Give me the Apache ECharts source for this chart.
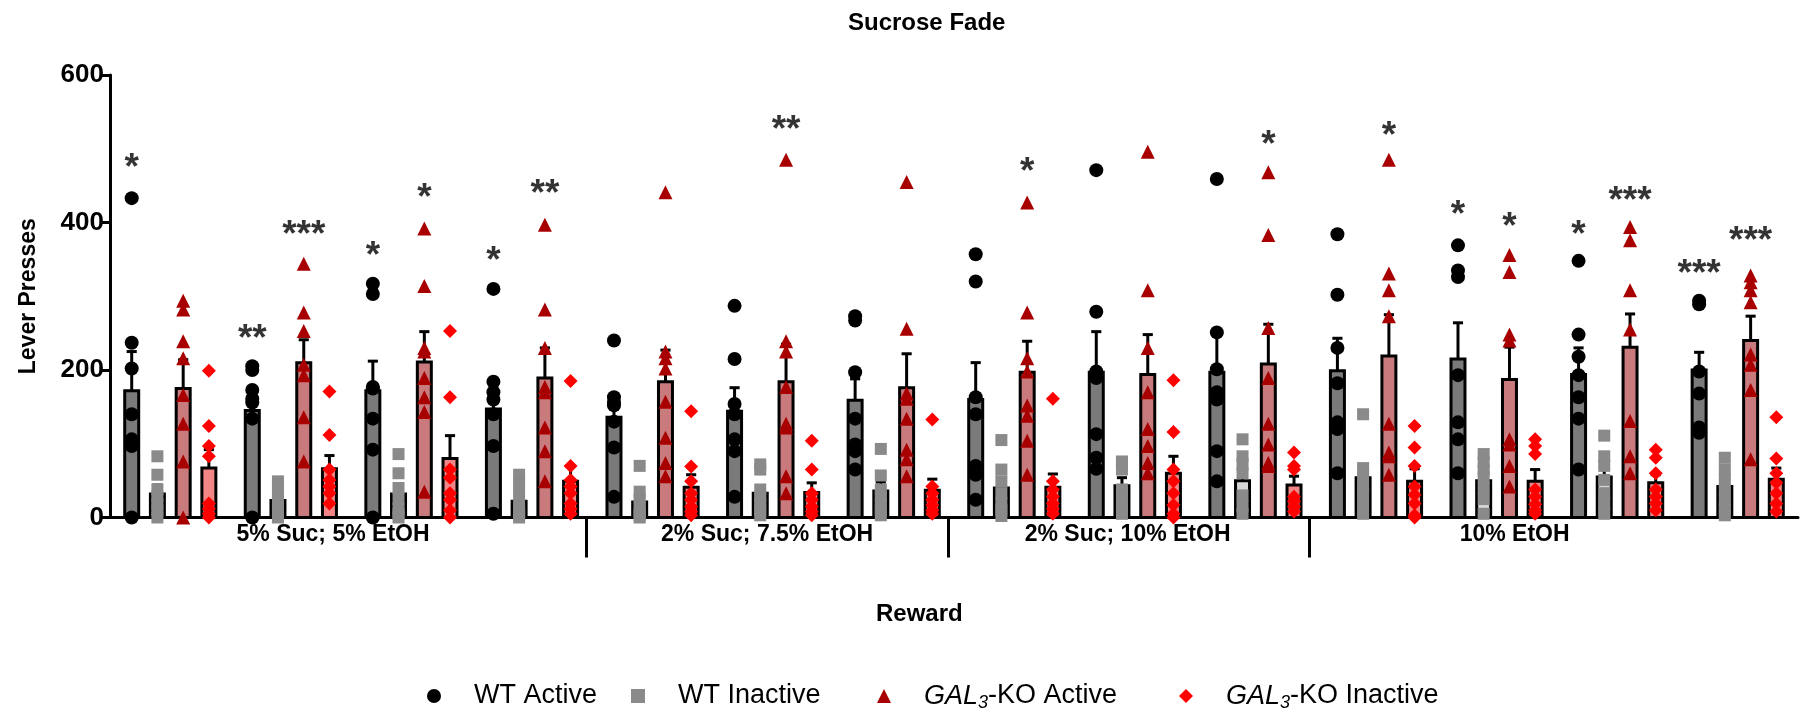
<!DOCTYPE html>
<html>
<head>
<meta charset="utf-8">
<title>Sucrose Fade</title>
<script src="https://cdn.jsdelivr.net/npm/echarts@6/dist/echarts.min.js"></script>
<style>
html, body { margin: 0; padding: 0; background: #fff; }
#chart { width: 1800px; height: 711px; }
</style>
</head>
<body>
<div id="chart"></div>
<script>
// sessions are grouped by reward solution
var groupNames = ['5% Suc; 5% EtOH', '2% Suc; 7.5% EtOH', '2% Suc; 10% EtOH', '10% EtOH'];
var groupSizes = [4, 3, 3, 4];
var seriesNames = ['WT Active', 'WT Inactive', 'GAL3-KO Active', 'GAL3-KO Inactive'];
var yTicks = [0, 200, 400, 600];

// bar heights (mean) and SEM, one value per session
var wtActiveMean = [172, 145, 172, 147, 136, 144, 159, 160, 197, 197, 199, 215, 194, 200];
var wtActiveSem = [53, 26, 40, 34, 25, 32, 29, 50, 55, 51, 44, 49, 36, 24];
var wtInactiveMean = [32, 23, 32, 22, 21, 33, 36, 40, 43, 50, 54, 50, 55, 42];
var wtInactiveSem = [12, 7, 12, 8, 9, 10, 12, 14, 11, 16, 17, 11, 14, 11];
var koActiveMean = [175, 210, 211, 189, 184, 184, 176, 197, 194, 208, 219, 187, 231, 240];
var koActiveSem = [39, 31, 41, 41, 43, 51, 46, 42, 54, 54, 56, 44, 45, 33];
var koInactiveMean = [67, 66, 80, 49, 41, 34, 37, 41, 60, 44, 49, 49, 47, 52];
var koInactiveSem = [25, 18, 31, 21, 17, 13, 15, 18, 23, 12, 17, 16, 11, 15];

// individual animals
var wtActivePts = [
  [433, 237, 202, 140, 106, 97, 0], [205, 200, 173, 161, 156, 134, 0],
  [317, 303, 177, 175, 134, 92, 0], [310, 184, 170, 160, 140, 97, 5],
  [240, 163, 156, 152, 130, 95, 28], [287, 215, 154, 140, 106, 90, 28],
  [273, 267, 197, 134, 99, 90, 65], [357, 320, 163, 140, 70, 58, 24],
  [471, 279, 198, 189, 113, 81, 66], [459, 251, 201, 170, 160, 90, 49],
  [384, 302, 230, 182, 129, 120, 60], [369, 335, 326, 193, 129, 106, 60],
  [348, 248, 218, 193, 163, 134, 65], [294, 289, 198, 168, 122, 115]
];
var wtInactivePts = [
  [83, 58, 38, 28, 18, 10, 0], [49, 40, 30, 22, 15, 8, 0],
  [86, 60, 40, 25, 12, 5, 0], [58, 45, 30, 15, 8, 4, 0],
  [70, 35, 25, 15, 8, 3, 0], [72, 65, 38, 28, 19, 10, 3],
  [93, 57, 38, 28, 19, 10, 3], [105, 65, 49, 33, 19, 10, 2],
  [76, 72, 65, 38, 28, 15, 5], [106, 83, 72, 60, 30, 15, 5],
  [140, 67, 56, 42, 33, 19, 5], [86, 75, 65, 55, 40, 25, 5],
  [111, 83, 70, 51, 33, 19, 5], [81, 65, 51, 38, 24, 12, 3]
];
var koActivePts = [
  [294, 282, 239, 216, 166, 127, 76, 0], [344, 278, 253, 207, 193, 136, 76],
  [392, 314, 230, 225, 189, 163, 143, 35], [397, 282, 230, 177, 170, 122, 90, 49],
  [441, 225, 216, 202, 157, 108, 74, 56], [485, 239, 225, 177, 127, 122, 56, 33],
  [455, 256, 168, 161, 134, 92, 79, 56], [427, 278, 216, 198, 152, 138, 104, 58],
  [496, 308, 230, 170, 120, 97, 74, 60], [468, 383, 257, 189, 127, 99, 74, 70],
  [485, 331, 308, 273, 127, 88, 83, 58], [356, 333, 248, 240, 106, 99, 70, 42],
  [394, 376, 308, 255, 131, 83, 60], [328, 319, 308, 292, 221, 207, 173, 79]
];
var koInactivePts = [
  [199, 124, 97, 83, 19, 12, 5, 0], [171, 112, 65, 51, 42, 33, 19],
  [253, 163, 65, 54, 33, 24, 10, 0], [185, 70, 51, 42, 33, 19, 12, 5],
  [144, 69, 49, 33, 24, 15, 8, 3], [104, 65, 33, 24, 15, 8, 3],
  [133, 42, 33, 24, 17, 10, 5], [161, 49, 38, 28, 19, 12, 5],
  [186, 116, 65, 49, 33, 17, 5, 0], [88, 70, 65, 28, 22, 15, 8],
  [124, 95, 70, 42, 31, 19, 3, 0], [106, 97, 86, 38, 28, 18, 10, 5],
  [92, 81, 60, 38, 28, 19, 10], [136, 80, 60, 47, 33, 19, 8]
];

// significance marks: session, bar (0..3), height, text
var sigSession = [0, 1, 1, 2, 2, 3, 3, 5, 7, 9, 10, 11, 11, 12, 12, 13, 13];
var sigBar = [0, 0, 2, 0, 2, 0, 2, 2, 2, 2, 2, 0, 2, 0, 2, 0, 2];
var sigValue = [484, 253, 394, 365, 443, 358, 449, 536, 479, 516, 528, 420, 404, 394, 440, 340, 385];
var sigText = ['*', '**', '***', '*', '*', '*', '**', '**', '*', '*', '*', '*', '*', '*', '***', '***', '***'];

var FONT = 'Liberation Sans';
var barOffsets = [0.18, 0.393, 0.607, 0.82];
var BAR_HALF = 0.058;
var CAP_HALF = 0.042;

var barFills = ['#7a7a7a', '#d6d6d6', '#c97a7c', '#f28585'];
var dotColors = ['#000000', '#8a8a8a', '#a80000', '#ff0000'];
var dotSymbols = ['circle', 'rect', 'triangle', 'diamond'];
var dotSizes = [14, 12, 14, 14];
var means = [wtActiveMean, wtInactiveMean, koActiveMean, koInactiveMean];
var sems = [wtActiveSem, wtInactiveSem, koActiveSem, koInactiveSem];
var pts = [wtActivePts, wtInactivePts, koActivePts, koInactivePts];

// group boundaries and label centres along the session axis
var sepPos = [];
var acc = 0;
for (var g = 0; g < groupSizes.length - 1; g++) {
  acc += groupSizes[g];
  sepPos.push(acc - 0.05);
}
var labelPos = [1.85, 5.45, 8.44, 11.65];

function barRenderer(fill) {
  return function (params, api) {
    var x = api.value(0), m = api.value(1), s = api.value(2);
    var tl = api.coord([x - BAR_HALF, m]);
    var br = api.coord([x + BAR_HALF, 0]);
    var top = api.coord([x, m + s]);
    var capL = api.coord([x - CAP_HALF, m + s]);
    var capR = api.coord([x + CAP_HALF, m + s]);
    return {
      type: 'group',
      children: [
        { type: 'rect', shape: { x: tl[0], y: tl[1], width: br[0] - tl[0], height: br[1] - tl[1] },
          style: { fill: fill, stroke: '#000', lineWidth: 3 } },
        { type: 'line', shape: { x1: top[0], y1: tl[1], x2: top[0], y2: top[1] },
          style: { stroke: '#000', lineWidth: 3 } },
        { type: 'line', shape: { x1: capL[0], y1: top[1], x2: capR[0], y2: top[1] },
          style: { stroke: '#000', lineWidth: 3 } }
      ]
    };
  };
}

var series = [];
for (var k = 0; k < 4; k++) {
  var barData = [];
  var dotData = [];
  for (var i = 0; i < means[k].length; i++) {
    barData.push([i + barOffsets[k], means[k][i], sems[k][i]]);
    pts[k][i].forEach(function (v) { dotData.push([i + barOffsets[k], v]); });
  }
  series.push({
    name: seriesNames[k] + ' bar',
    type: 'custom',
    renderItem: barRenderer(barFills[k]),
    encode: { x: 0, y: 1 },
    data: barData,
    z: 2,
    silent: true
  });
  series.push({
    name: seriesNames[k],
    type: 'scatter',
    symbol: dotSymbols[k],
    symbolSize: dotSizes[k],
    itemStyle: { color: dotColors[k], opacity: 1 },
    data: dotData,
    z: 3,
    silent: true
  });
}

var sigData = [];
for (var j = 0; j < sigSession.length; j++) {
  sigData.push([sigSession[j] + barOffsets[sigBar[j]], sigValue[j], sigText[j]]);
}
series.push({
  name: 'sig',
  type: 'scatter',
  symbolSize: 1,
  itemStyle: { color: 'transparent' },
  data: sigData,
  z: 4,
  silent: true,
  label: {
    show: true,
    position: 'inside',
    offset: [0, 8.5],
    formatter: function (p) { return p.value[2]; },
    fontFamily: FONT,
    fontSize: 37,
    fontWeight: 'bold',
    color: '#000'
  }
});

var legendX = [429, 633, 879, 1181];
var legends = seriesNames.map(function (n, k) {
  return {
    data: [n],
    left: legendX[k] - 7,
    top: 675,
    itemWidth: 14,
    itemHeight: 14,
    selectedMode: false,
    formatter: function (name) {
      return name.replace('GAL3', '{i|GAL}{s|3}');
    },
    textStyle: {
      fontFamily: FONT,
      fontSize: 27,
      color: '#000',
      padding: [0, 0, 0, 28],
      lineHeight: 32,
      rich: {
        i: { fontFamily: FONT, fontSize: 27, fontStyle: 'italic', color: '#000', lineHeight: 32 },
        s: { fontFamily: FONT, fontSize: 18, fontStyle: 'italic', color: '#000', lineHeight: 14, verticalAlign: 'bottom' }
      }
    }
  };
});

var chart = echarts.init(document.getElementById('chart'));
chart.setOption({
  backgroundColor: '#fff',
  animation: false,
  title: [
    { text: 'Sucrose Fade', left: 843, top: 6,
      textStyle: { fontFamily: FONT, fontSize: 24, fontWeight: 'bold', color: '#000' } },
    { text: 'Reward', left: 871, top: 597,
      textStyle: { fontFamily: FONT, fontSize: 24, fontWeight: 'bold', color: '#000' } }
  ],
  legend: legends,
  grid: { left: 110, right: 2, top: 75, bottom: 193.5, outerBoundsMode: 'none' },
  xAxis: {
    type: 'value',
    min: 0,
    max: 14,
    splitLine: { show: false },
    axisLine: { show: true, onZero: false, lineStyle: { color: '#000', width: 3 } },
    axisTick: { show: true, customValues: sepPos, length: 40, lineStyle: { color: '#000', width: 3 } },
    axisLabel: {
      show: true,
      customValues: labelPos,
      margin: 6,
      formatter: function (v) {
        for (var q = 0; q < labelPos.length; q++) {
          if (Math.abs(v - labelPos[q]) < 0.01) return groupNames[q];
        }
        return '';
      },
      fontFamily: FONT,
      fontSize: 23,
      fontWeight: 'bold',
      color: '#000'
    }
  },
  yAxis: {
    type: 'value',
    min: 0,
    max: 600,
    interval: 200,
    name: 'Lever Presses',
    nameLocation: 'middle',
    nameGap: 70,
    nameTextStyle: { fontFamily: FONT, fontSize: 23, fontWeight: 'bold', color: '#000' },
    splitLine: { show: false },
    axisLine: { show: true, lineStyle: { color: '#000', width: 3 } },
    axisTick: { show: true, length: 9, lineStyle: { color: '#000', width: 3 } },
    axisLabel: {
      margin: 6,
      fontFamily: FONT,
      fontSize: 26,
      fontWeight: 'bold',
      color: '#000',
      formatter: function (v) { return yTicks.indexOf(v) >= 0 ? String(v) : ''; }
    }
  },
  series: series
});
</script>
</body>
</html>
